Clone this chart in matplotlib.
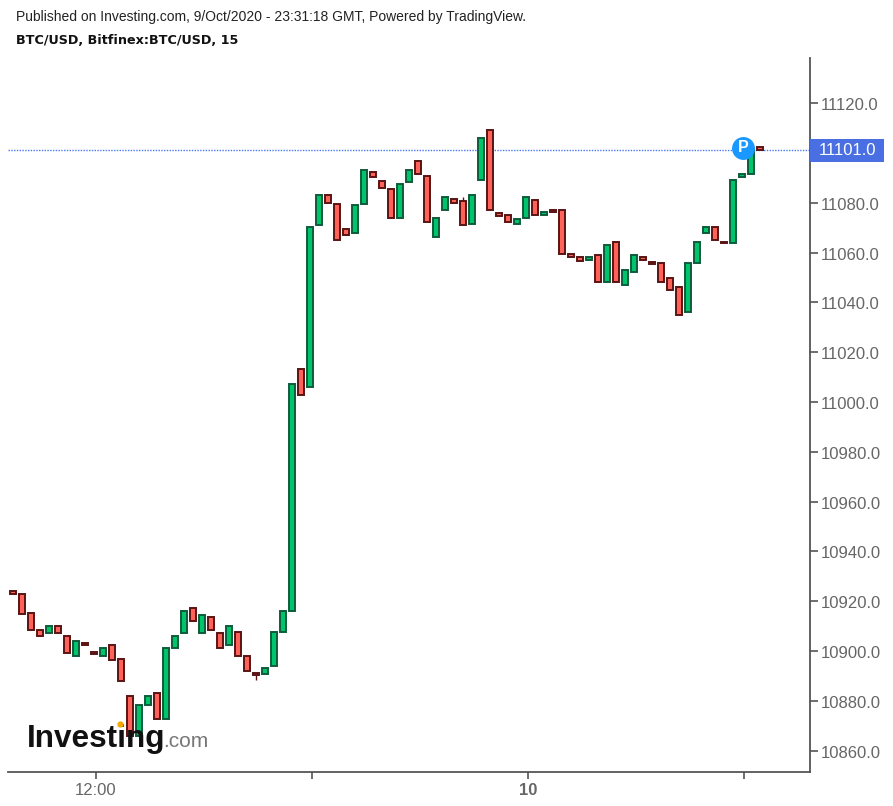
"""BTC/USD 15 min candles, Bitfinex, published on Investing.com."""

import matplotlib

matplotlib.use("Agg")
import matplotlib.pyplot as plt
from matplotlib.lines import Line2D
from matplotlib.patches import Rectangle
from matplotlib.transforms import ScaledTranslation

plt.rcParams["font.family"] = ["Liberation Sans", "DejaVu Sans"]

TITLE_TOP = "Published on Investing.com, 9/Oct/2020 - 23:31:18 GMT, Powered by TradingView."
TITLE_SUB = "BTC/USD, Bitfinex:BTC/USD, 15"

opens = [
    10924.2, 10922.9, 10915.1, 10908.4, 10907.1, 10910.1, 10906.1, 10898.0, 10903.1, 10899.4,
    10898.0, 10902.4, 10896.9, 10881.9, 10866.0, 10878.2, 10883.1, 10872.8, 10901.0, 10907.1,
    10917.3, 10907.1, 10913.7, 10907.2, 10902.3, 10907.7, 10898.1, 10891.0, 10890.7, 10893.8,
    10907.7, 10916.1, 11013.2, 11006.0, 11070.9, 11083.1, 11079.5, 11069.3, 11067.8, 11079.4,
    11092.2, 11088.6, 11085.5, 11073.9, 11088.3, 11096.9, 11090.8, 11066.1, 11076.9, 11081.4,
    11080.7, 11071.4, 11089.0, 11109.1, 11075.7, 11075.2, 11071.6, 11074.0, 11081.2, 11075.2,
    11077.1, 11077.1, 11059.5, 11058.3, 11057.1, 11059.0, 11048.0, 11064.3, 11046.8, 11052.2,
    11058.3, 11056.1, 11055.9, 11049.9, 11046.3, 11036.0, 11055.8, 11068.0, 11070.4, 11064.3,
    11063.7, 11090.2, 11091.4, 11102.4,
]
closes = [
    10922.7, 10914.8, 10908.3, 10905.9, 10910.1, 10907.1, 10899.2, 10904.1, 10902.3, 10898.6,
    10901.2, 10896.2, 10887.8, 10866.0, 10878.3, 10881.9, 10872.8, 10901.2, 10906.0, 10916.1,
    10911.9, 10914.4, 10908.3, 10901.0, 10910.1, 10898.0, 10891.9, 10890.4, 10893.3, 10907.7,
    10916.1, 11007.2, 11002.8, 11070.4, 11083.1, 11079.9, 11064.9, 11067.1, 11079.0, 11093.3,
    11090.2, 11085.9, 11073.9, 11087.4, 11093.3, 11091.4, 11072.1, 11074.0, 11082.4, 11079.9,
    11070.9, 11083.1, 11106.0, 11076.9, 11074.5, 11072.1, 11073.3, 11082.4, 11075.2, 11076.4,
    11076.4, 11059.4, 11058.3, 11056.5, 11058.3, 11048.0, 11063.1, 11048.0, 11053.0, 11059.0,
    11057.1, 11055.3, 11048.0, 11044.9, 11034.8, 11055.9, 11064.3, 11070.4, 11064.9, 11063.7,
    11089.1, 11091.5, 11101.6, 11101.0,
]
# bars that show a wick past the body: index -> (low, high)
wicks = {27: (10888.3, 10891.0), 50: (11075.0, 11082.2)}

price_ticks = [11120, 11100, 11080, 11060, 11040, 11020, 11000, 10980, 10960, 10940, 10920, 10900, 10880, 10860]
price_labels = ["11120.0", "", "11080.0", "11060.0", "11040.0", "11020.0", "11000.0", "10980.0", "10960.0",
                "10940.0", "10920.0", "10900.0", "10880.0", "10860.0"]
time_ticks = [9.19, 33.19, 57.19, 81.19]
time_labels = ["12:00", "", "10", ""]
last_price = 11101.0
published_bar = 81.13
published_price = 11102.0

RED = "#ff6259"
GREEN = "#00c46c"
RED_EDGE = "#5a1414"
GREEN_EDGE = "#0f5c3c"
AXIS = "#555555"
TEXT = "#666666"
LINE_BLUE = "#4a78f0"

W, H = 893, 806
fig = plt.figure(figsize=(W / 100, H / 100), dpi=100)
ax = fig.add_axes([8 / W, (H - 772) / H, 802 / W, 714 / H])
ax.set_xlim(-0.59, 88.52)
ax.set_ylim(10851.4, 11138.1)

for spine in ["top", "left"]:
    ax.spines[spine].set_visible(False)
for spine in ["right", "bottom"]:
    ax.spines[spine].set_color(AXIS)
    ax.spines[spine].set_linewidth(1.3)

for i, (o, c) in enumerate(zip(opens, closes)):
    up = c > o
    face = GREEN if up else RED
    edge = GREEN_EDGE if up else RED_EDGE
    if i in wicks:
        ax.vlines(i, wicks[i][0], wicks[i][1], color=edge, lw=1, zorder=2)
    ax.add_patch(Rectangle((i - 0.34, min(o, c)), 0.68, abs(c - o), facecolor=face, edgecolor=edge,
                           linewidth=1.4, zorder=3))

ax.axhline(last_price, color=LINE_BLUE, lw=1, ls=(0, (1, 1)), zorder=1)

ax.yaxis.tick_right()
ax.set_yticks(price_ticks)
ax.set_yticklabels(price_labels, fontsize=12, color=TEXT)
ax.tick_params(axis="y", length=6, width=1.2, color=AXIS, pad=1.5)
# price labels sit a pixel below their ticks
for label in ax.get_yticklabels():
    label.set_transform(label.get_transform() + ScaledTranslation(0, -1 / 100, fig.dpi_scale_trans))
ax.set_xticks(time_ticks)
ax.set_xticklabels(time_labels, fontsize=12, color=TEXT)
ax.get_xticklabels()[2].set_fontweight("bold")
ax.tick_params(axis="x", length=5, width=1.2, color=AXIS, pad=3)

# last price flag on the scale
ax.add_patch(Rectangle((1.0, last_price - 4.8), 74 / 802, 9.2, transform=ax.get_yaxis_transform(),
                       facecolor="#4a6fe3", edgecolor="none", clip_on=False, zorder=5))
ax.text(1.0 + 9 / 802, last_price - 0.2, "11101.0", transform=ax.get_yaxis_transform(), color="white",
        fontsize=12, va="center", ha="left", clip_on=False, zorder=6)

# published marker
ax.plot([published_bar], [published_price], "o", ms=16.5, color="#1a98ff", zorder=5, mew=0)
ax.text(published_bar, published_price, "P", color="white", fontsize=11.5, fontweight="bold",
        ha="center", va="center", zorder=6)

fig.text(16 / W, 1 - 17 / H, TITLE_TOP, fontsize=10, color="#222222", va="center")
fig.text(16 / W, 1 - 40 / H, TITLE_SUB, fontsize=9.15, color="#111111", va="center", fontweight="bold",
         family=["DejaVu Sans"])

# watermark
fig.text(27 / W, 1 - 747 / H, "Investing", fontsize=22.7, fontweight="bold", color="#111111",
         va="baseline", ha="left", zorder=8)
fig.text(163 / W, 1 - 747 / H, ".com", fontsize=15, color="#777777", va="baseline", ha="left", zorder=8)
fig.add_artist(Line2D([120 / W], [1 - 724 / H], marker="o", ms=4.5, color="#f5a800", mew=0,
                      transform=fig.transFigure, zorder=9))

fig.savefig("out.png", dpi=100)
